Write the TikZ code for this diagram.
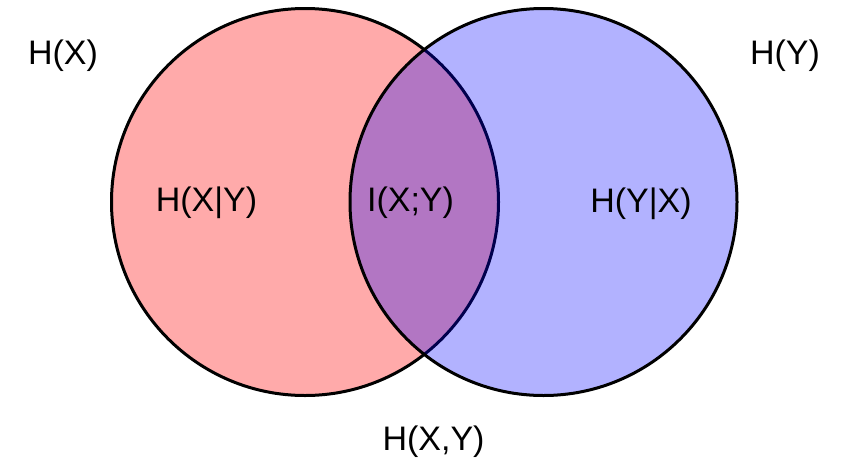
\documentclass[tikz,border=0pt]{standalone}
\usepackage{fontspec}
\setmainfont{Liberation Sans}
\definecolor{setred}{RGB}{255,170,170}
\definecolor{setblue}{RGB}{0,0,255}
\begin{document}
\begin{tikzpicture}[x=1pt,y=-1pt,
  setcircle/.style={circle, draw=black, line width=3pt, inner sep=0pt, minimum size=387pt},
  lbl/.style={anchor=base, inner sep=0pt, font=\fontsize{34}{40}\selectfont}]
\useasboundingbox (0,0) rectangle (843,461);
\node[setcircle, fill=setred] (cx) at (305,202) {};
\node[setcircle, fill=setblue, fill opacity=0.3, draw opacity=1] (cy) at (543.5,202) {};
\node[lbl] (hx) at (63,64) {H(X)};
\node[lbl] (hy) at (785,64) {H(Y)};
\node[lbl] (hxgy) at (206.5,211) {H(X|Y)};
\node[lbl] (ixy) at (410.5,211) {I(X;Y)};
\node[lbl] (hygx) at (641,212) {H(Y|X)};
\node[lbl] (hxy) at (433.5,450) {H(X,Y)};
\end{tikzpicture}
\end{document}
